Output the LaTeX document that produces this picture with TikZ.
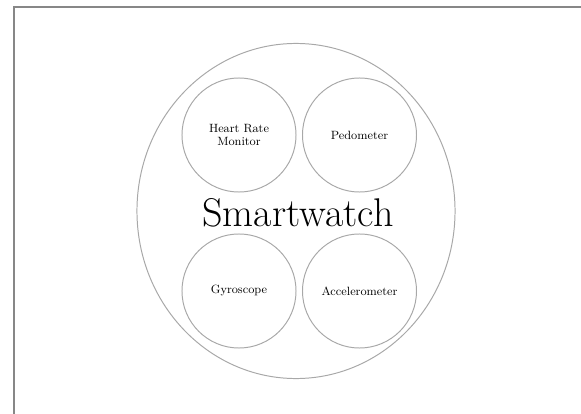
\documentclass[tikz,border=0pt]{standalone}
\usepackage{tikz}
\usetikzlibrary{shapes.geometric}
\definecolor{framegray}{rgb}{0.53, 0.53, 0.53}
\definecolor{ringgray}{rgb}{0.66, 0.66, 0.66}

\tikzset{
  sensor/.style={circle, draw=ringgray, line width=0.7pt, minimum size=2.85cm,
    inner sep=0pt, align=center, font=\fontsize{8.5}{9.5}\selectfont},
}

\begin{document}
\begin{tikzpicture}[x=0.025cm,y=-0.025cm]
\useasboundingbox (0,0) rectangle (581,414);
\coordinate (fb) at (14,414);
\coordinate (fr) at (581,7);
\draw[framegray, line width=1.4pt] (fb) |- (fr);
\node[ellipse, draw=ringgray, line width=0.7pt, minimum width=7.95cm,
  minimum height=8.375cm, inner sep=0pt] (watch) at (296,211) {};
\node[anchor=base, font=\fontsize{28.5}{34}\selectfont] (title) at (298,226.5) {Smartwatch};
\node[sensor] (hrm) at (239,135) {Heart Rate\\Monitor};
\node[sensor] (pedo) at (359.5,135) {Pedometer};
\node[sensor] (gyro) at (239,291) {Gyroscope};
\node[sensor] (accel) at (359.5,291) {Accelerometer};
\end{tikzpicture}
\end{document}
